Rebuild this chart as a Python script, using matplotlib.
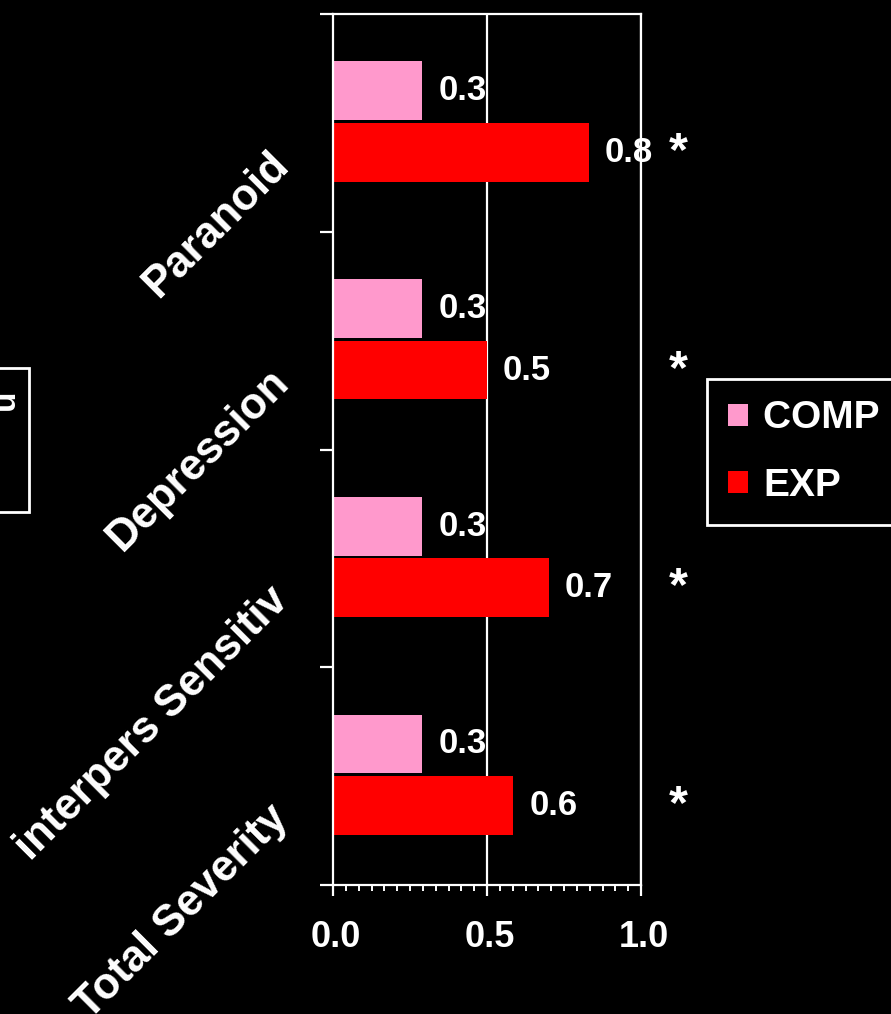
import matplotlib.pyplot as plt
import matplotlib.patches as patches
import matplotlib.transforms as mtransforms
from matplotlib.ticker import MultipleLocator, FixedLocator
import numpy as np

plt.rcParams["font.family"] = ["Liberation Sans", "DejaVu Sans"]
plt.rcParams["font.weight"] = "bold"

# dados do grafico (de baixo para cima)
categorias = ["Total Severity", "interpers Sensitiv", "Depression", "Paranoid"]
comp = [0.29, 0.29, 0.29, 0.29]
exp = [0.585, 0.70, 0.50, 0.83]
comp_labels = ["0.3", "0.3", "0.3", "0.3"]
exp_labels = ["0.6", "0.7", "0.5", "0.8"]
asteriscos = ["*", "*", "*", "*"]

cor_comp = "#FF99CC"
cor_exp = "#FF0000"

fig = plt.figure(figsize=(8.91, 10.14), dpi=100, facecolor="black")
ax = fig.add_axes([333 / 891, 129 / 1014, 308 / 891, 871 / 1014])
ax.set_facecolor("black")

y = np.arange(len(categorias))
h = 0.27

# grade vertical atras das barras
for gx in [0.5, 1.0]:
    ax.axvline(gx, color="white", lw=1.6, zorder=0)

b1 = ax.barh(y + 0.148, comp, height=h, color=cor_comp, label="COMP ", zorder=2)
b2 = ax.barh(y - 0.135, exp, height=h, color=cor_exp, label="EXP", zorder=2)

# rotulos das barras
for i in range(len(categorias)):
    ax.text(comp[i] + 0.052, y[i] + 0.148, comp_labels[i], color="white",
            fontsize=25, fontweight="bold", va="center", ha="left", zorder=3)
    ax.text(exp[i] + 0.052, y[i] - 0.135, exp_labels[i], color="white",
            fontsize=25, fontweight="bold", va="center", ha="left", zorder=3)
    ax.text(1.12, y[i] - 0.135, asteriscos[i], color="white", fontsize=35,
            fontweight="bold", va="center", ha="center", clip_on=False)

ax.set_xlim(0, 1.0)
ax.set_ylim(-0.5, len(categorias) - 0.5)

# eixo x
ax.set_xticks([0, 0.5, 1.0])
ax.set_xticklabels(["0.0", "0.5", "1.0"])
ax.xaxis.set_minor_locator(MultipleLocator(0.5 / 12))
ax.tick_params(axis="x", which="major", colors="white", length=8, width=1.6,
               labelsize=26, pad=17, direction="out")
ax.tick_params(axis="x", which="minor", colors="white", length=4.5, width=1.4,
               direction="out")
for lab in ax.get_xticklabels():
    lab.set_transform(lab.get_transform() + mtransforms.Affine2D().translate(3, 0))

# eixo y: marcas nas fronteiras, nomes girados a 45 graus
ax.set_yticks([])
ax.yaxis.set_minor_locator(FixedLocator(np.arange(-0.5, len(categorias), 1.0)))
ax.tick_params(axis="y", which="minor", colors="white", length=9.5, width=1.6,
               direction="out")
deslocado = mtransforms.offset_copy(ax.transData, fig=fig, x=-43, y=-44, units="dots")
for i, nome in enumerate(categorias):
    ax.text(0, y[i], nome, transform=deslocado, rotation=45,
            rotation_mode="anchor", ha="right", va="baseline",
            color="white", fontsize=31.5, fontweight="bold", clip_on=False)

for s in ax.spines.values():
    s.set_color("white")
    s.set_linewidth(1.6)

# legenda
leg = fig.legend(handles=[b1, b2], loc="upper left",
                 bbox_to_anchor=(707 / 891, 1 - 379 / 1014), borderaxespad=0,
                 fontsize=28, handlelength=0.5, handleheight=0.5,
                 handletextpad=0.4, labelspacing=0.8, borderpad=0.55,
                 fancybox=False, facecolor="black", edgecolor="white",
                 framealpha=1)
leg.get_frame().set_linewidth(2)
for t in leg.get_texts():
    t.set_color("white")
    t.set_fontweight("bold")

# caixa cortada na borda esquerda
fig.patches.append(patches.Rectangle((-0.05, 1 - 512 / 1014), 0.05 + 29 / 891, 144 / 1014,
                                     transform=fig.transFigure, fill=False,
                                     edgecolor="white", lw=2))
fig.text(21 / 891, 1 - 400 / 1014, "u", rotation=90, ha="right", va="center",
         color="white", fontsize=24, fontweight="bold")

fig.savefig("out.png", dpi=100, facecolor="black")
